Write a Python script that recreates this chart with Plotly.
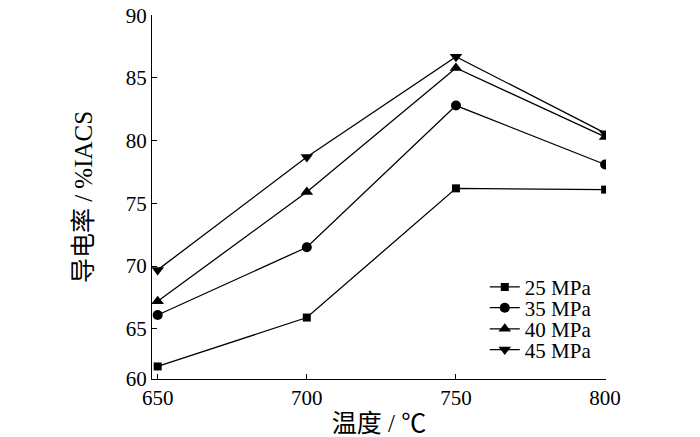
import plotly.graph_objects as go

# Data
temperatures = [650, 700, 750, 800]
series_names = ['25 MPa', '35 MPa', '40 MPa', '45 MPa']
cond_25 = [62.0, 65.9, 76.2, 76.1]
cond_35 = [66.1, 71.5, 82.8, 78.1]
cond_40 = [67.2, 75.9, 85.8, 80.3]
cond_45 = [69.7, 78.7, 86.7, 80.6]
x_ticks = [650, 700, 750, 800]
y_tickvals = [61, 65, 70, 75, 80, 85, 90]
y_ticktext = ['60', '65', '70', '75', '80', '85', '90']

serif = 'Liberation Serif, Times New Roman, Noto Sans CJK SC, serif'
symbols = ['square', 'circle', 'triangle-up', 'triangle-down']
sizes = [8, 10, 11, 11]
legend_ids = ['legend', 'legend2', 'legend3', 'legend4']
legend_y = [0.252, 0.195, 0.137, 0.080]

fig = go.Figure()
for name, vals, sym, sz, lg in zip(series_names, [cond_25, cond_35, cond_40, cond_45],
                                   symbols, sizes, legend_ids):
    fig.add_trace(go.Scatter(
        x=temperatures,
        y=vals,
        mode='lines+markers',
        name=name,
        legend=lg,
        line=dict(color='black', width=1.3),
        marker=dict(symbol=sym, size=sz, color='black')
    ))

# one small legend box per series so the rows sit as tight as in the original
for lg, ly in zip(legend_ids, legend_y):
    fig.update_layout({lg: dict(
        x=0.733, y=ly, xanchor='left', yanchor='middle',
        bgcolor='rgba(0,0,0,0)',
        font=dict(family=serif, size=21, color='black'),
        itemwidth=30
    )})

fig.update_layout(
    width=700,
    height=437,
    margin=dict(l=152, r=94, t=15, b=58),
    plot_bgcolor='white',
    paper_bgcolor='white',
    font=dict(family=serif, size=21, color='black'),
    showlegend=True,
    xaxis=dict(
        range=[648.1, 800.3],
        tickvals=x_ticks,
        ticks='inside',
        ticklen=5,
        tickwidth=1.2,
        tickcolor='black',
        showline=True,
        linecolor='black',
        linewidth=1.3,
        showgrid=False,
        zeroline=False,
        automargin=False,
        ticklabeloverflow='allow',
        title=dict(text='温度 / ℃', standoff=5),
    ),
    yaxis=dict(
        range=[61, 90.02],
        tickvals=y_tickvals,
        ticktext=y_ticktext,
        ticks='inside',
        ticklen=5,
        tickwidth=1.2,
        tickcolor='black',
        showline=True,
        linecolor='black',
        linewidth=1.3,
        showgrid=False,
        zeroline=False,
        automargin=False,
        ticklabeloverflow='allow',
        title=dict(text='导电率 / %IACS', standoff=25),
    )
)

# drop the default 8px page margin so the figure sits flush in the window
fig.write_html('out.html', config={'displayModeBar': False},
               post_script="document.body.style.margin='0';")
